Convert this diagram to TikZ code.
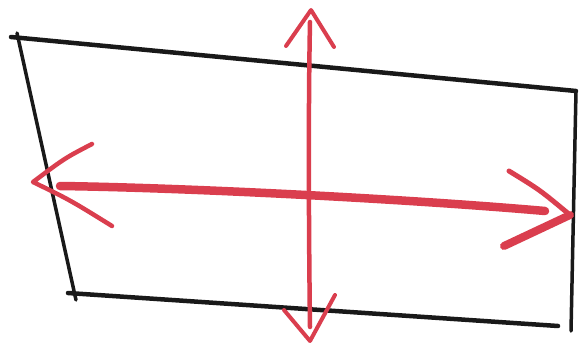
\documentclass[tikz,border=0pt]{standalone}
\usepackage{xcolor}
\usepackage{tikz}
\definecolor{sketchred}{RGB}{218,62,78}

\begin{document}
\begin{tikzpicture}[
      x=1pt, y=-1pt,
      frame/.style={draw=black!90, line width=4.5pt, line cap=round, line join=round},
      shaft/.style={draw=sketchred, line cap=round},
      head/.style={draw=sketchred, line width=4.5pt, line cap=round, line join=round},
    ]
    \useasboundingbox (0,0) rectangle (581,345);
    % corners of the sheet
    \coordinate (tl) at (15,37);
    \coordinate (tr) at (576,91);
    \coordinate (br) at (571,331);
    \coordinate (bl) at (68,293);
    \draw[frame] (11,37) -- (tr);
    \draw[frame, line width=3.5pt] (17,33) -- (76,300);
    \draw[frame, line width=3.5pt] (tr) -- (br);
    \draw[frame] (bl) -- (558,326);
    % horizontal arrow
    \coordinate (hleft) at (33,182);
    \coordinate (hright) at (570,215);
    \draw[shaft, line width=8.5pt] (60,186) .. controls (200,188) and (420,200) .. (545,211);
    \draw[head] (92,144) .. controls (65,158) .. (hleft) .. controls (70,200) .. (112,226);
    \draw[head, line width=5pt] (509,171) .. controls (540,190) .. (hright);
    \draw[head, line width=8pt] (hright) -- (504,246);
    % vertical arrow
    \coordinate (vtop) at (311,10);
    \coordinate (vbottom) at (310,341);
    \draw[shaft, line width=4.5pt] (310,22) .. controls (308,120) and (309,250) .. (310,327);
    \draw[head, line width=4pt] (286,46) -- (vtop) -- (334,47);
    \draw[head, line width=4pt] (284,310) -- (vbottom) -- (335,295);
  \end{tikzpicture}
\end{document}
